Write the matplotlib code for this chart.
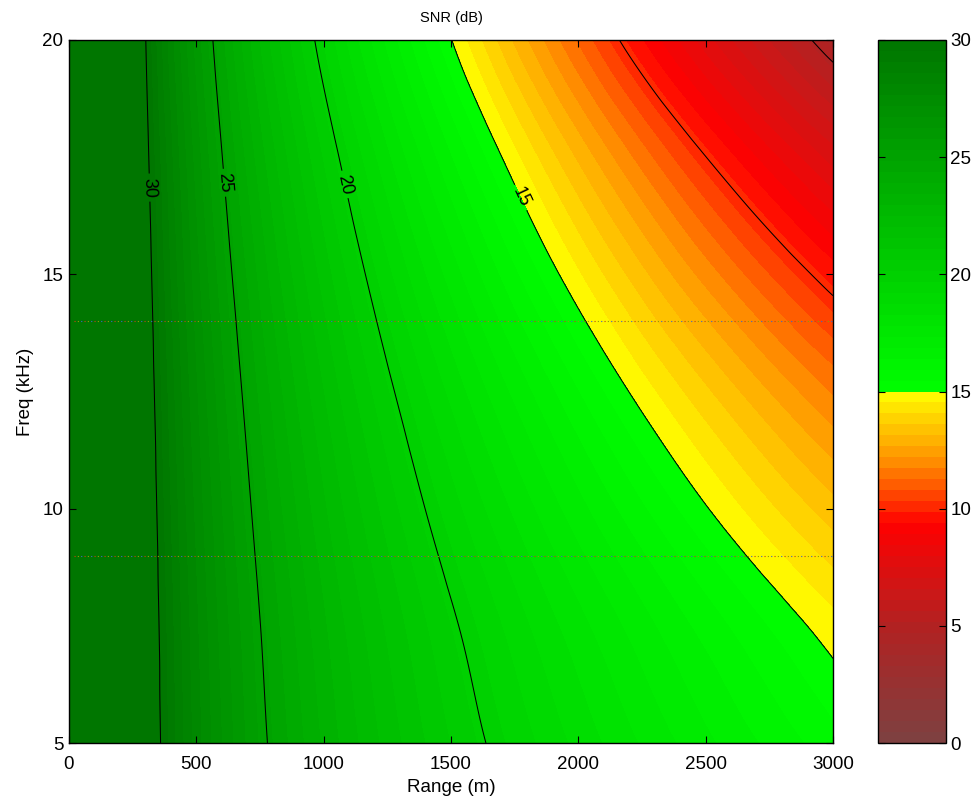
import numpy as np
import matplotlib
matplotlib.use('Agg')
import matplotlib.pyplot as plt
from matplotlib.colors import LinearSegmentedColormap, ListedColormap, BoundaryNorm
from matplotlib.cm import ScalarMappable
from matplotlib.tri import Triangulation, UniformTriRefiner, CubicTriInterpolator

plt.rcParams['font.family'] = ['Liberation Sans', 'DejaVu Sans']

# ---------------- data ----------------
range_m = [0, 100, 200, 300, 400, 500, 600, 700, 800, 1000, 1200, 1400,
           1600, 1800, 2000, 2200, 2400, 2600, 2800, 3000]
freq_khz = [5, 7.5, 10, 12.5, 15, 17.5, 20]

snr_f05 = [45, 38.10, 33.73, 31.16, 29.32, 27.89, 26.71, 25.70, 24.83, 23.35, 22.13, 21.08, 20.16, 19.34, 18.60, 17.92, 17.29, 16.70, 16.16, 15.64]
snr_f075 = [45, 38.07, 33.67, 31.07, 29.20, 27.73, 26.52, 25.49, 24.58, 23.04, 21.76, 20.65, 19.67, 18.78, 17.98, 17.24, 16.54, 15.90, 15.29, 14.71]
snr_f10 = [45, 38.02, 33.58, 30.93, 29.01, 27.50, 26.24, 25.16, 24.20, 22.57, 21.19, 19.99, 18.91, 17.94, 17.04, 16.20, 15.42, 14.68, 13.97, 13.30]
snr_f125 = [45, 37.96, 33.47, 30.76, 28.79, 27.22, 25.91, 24.77, 23.76, 22.02, 20.53, 19.22, 18.03, 16.95, 15.94, 14.99, 14.10, 13.25, 12.43, 11.65]
snr_f15 = [45, 37.90, 33.33, 30.56, 28.52, 26.88, 25.50, 24.30, 23.22, 21.34, 19.72, 18.27, 16.95, 15.72, 14.58, 13.50, 12.46, 11.48, 10.53, 9.61]
snr_f175 = [45, 37.82, 33.17, 30.32, 28.21, 26.49, 25.03, 23.75, 22.60, 20.56, 18.78, 17.17, 15.70, 14.32, 13.02, 11.78, 10.59, 9.45, 8.34, 7.27]
snr_f20 = [45, 37.73, 32.99, 30.04, 27.83, 26.03, 24.48, 23.10, 21.85, 19.63, 17.66, 15.87, 14.21, 12.64, 11.16, 9.73, 8.36, 7.03, 5.74, 4.48]

unlabelled_levels = [5, 10]
labelled_levels = [15, 20, 25, 30]
label_pos_range = [1759, 1068, 601, 306]
label_pos_freq = [16.6, 16.9, 16.95, 16.85]

marked_freqs = [14, 9]

cbar_ticks = [0, 5, 10, 15, 20, 25, 30]
x_ticks = [0, 500, 1000, 1500, 2000, 2500, 3000]
y_ticks = [5, 10, 15, 20]

# ---------------- colour map ----------------
cm_pos = [0, 5, 9.4, 10, 11, 12, 13, 14, 14.99, 15, 30]
cm_rgb = [(125, 65, 65), (178, 34, 34), (255, 0, 0), (255, 35, 0), (255, 90, 0),
          (255, 140, 0), (255, 180, 0), (255, 215, 0), (255, 255, 0),
          (0, 255, 0), (0, 118, 0)]
base = LinearSegmentedColormap.from_list(
    'snr', [(p / 30.0, tuple(c / 255.0 for c in rgb)) for p, rgb in zip(cm_pos, cm_rgb)])
levels = np.linspace(0, 30, 65)
mids = 0.5 * (levels[:-1] + levels[1:]) / 30.0
cmap = ListedColormap([base(m) for m in mids])
cmap.set_over(base(1.0))
cmap.set_under(base(0.0))
norm = BoundaryNorm(levels, cmap.N)

# ---------------- figure ----------------
W, H = 979, 801
FS = 13.5
fig = plt.figure(figsize=(W / 100, H / 100), dpi=100)
ax = fig.add_axes([69 / W, 58 / H, 764 / W, 703 / H])
cax = fig.add_axes([878 / W, 58 / H, 68 / W, 703 / H])

R, F = np.meshgrid(np.array(range_m, float), np.array(freq_khz, float))
Z = np.array([snr_f05, snr_f075, snr_f10, snr_f125, snr_f15, snr_f175, snr_f20])

# regular triangulation of the read grid (scaled so the cells are near square)
nx, ny = len(range_m), len(freq_khz)
tris = []
for j in range(ny - 1):
    for i in range(nx - 1):
        a, b = j * nx + i, j * nx + i + 1
        c, d = (j + 1) * nx + i + 1, (j + 1) * nx + i
        tris += [[a, b, c], [a, c, d]]
xs, ys = R.ravel() / 200.0, (F.ravel() - freq_khz[0]) / 2.5
tri = Triangulation(xs, ys, np.array(tris))
interp = CubicTriInterpolator(tri, Z.ravel(), kind='geom')
tri_f, z_f = UniformTriRefiner(tri).refine_field(Z.ravel(), triinterpolator=interp, subdiv=4)
tri_p = Triangulation(tri_f.x * 200.0, tri_f.y * 2.5 + freq_khz[0], tri_f.triangles)

ax.tricontourf(tri_p, z_f, levels=levels, cmap=cmap, norm=norm, extend='both',
               antialiased=False)
ax.tricontour(tri_p, z_f, levels=unlabelled_levels, colors='k', linewidths=0.75)
cs = ax.tricontour(tri_p, z_f, levels=labelled_levels, colors='k', linewidths=0.75)
ax.clabel(cs, inline=True, fontsize=13, fmt='%d', inline_spacing=4,
          manual=list(zip(label_pos_range, label_pos_freq)))

# multicoloured dotted marker lines
dot_colors = ['#c83c14', '#3c64c8', '#8ca000']
for fq in marked_freqs:
    for i, c in enumerate(dot_colors):
        ax.plot([range_m[0] + 20, range_m[-1]], [fq, fq], color=c, lw=0.8,
                dash_capstyle='butt', linestyle=(i * 3, (1, 8)))

ax.set_xlim(0, 3000)
ax.set_ylim(5, 20)
ax.set_xticks(x_ticks)
ax.set_yticks(y_ticks)
ax.tick_params(direction='in', length=5, width=0.8, top=True, right=True, labelsize=FS)
ax.tick_params(axis='x', pad=9.5)
ax.tick_params(axis='y', pad=4)
for s in ax.spines.values():
    s.set_linewidth(1.0)
ax.set_xlabel('Range (m)', fontsize=FS, labelpad=4.5)
ax.set_ylabel('Freq (kHz)', fontsize=FS, labelpad=6)
ax.set_title('SNR (dB)', fontsize=10.5, pad=13)

sm = ScalarMappable(norm=norm, cmap=cmap)
cb = fig.colorbar(sm, cax=cax, ticks=cbar_ticks)
cb.ax.minorticks_off()
cb.ax.tick_params(which='major', direction='in', length=5, width=0.8, left=True,
                  right=True, labelsize=FS, pad=3)
cb.outline.set_linewidth(1.0)
cb.ax.set_yticklabels([str(t) for t in cbar_ticks])

fig.savefig('out.png', dpi=100)
